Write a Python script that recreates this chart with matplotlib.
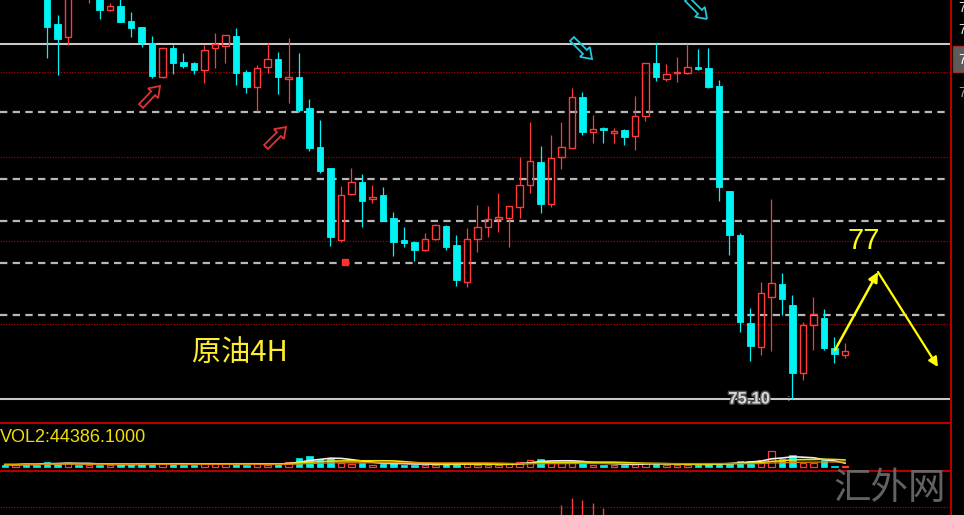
import numpy as np
import pandas as pd
import matplotlib
matplotlib.use("Agg")
import matplotlib.pyplot as plt
from matplotlib.patches import Rectangle, FancyArrow
import matplotlib.patheffects as pe

# ---------------- data (crude oil 4H candles) ----------------
idx = list(range(-4, 77))
opens = [81.40, 81.25, 81.35, 81.05,
         80.80, 80.35, 80.17, 81.11, 80.80, 80.73, 80.55, 80.60, 80.39, 80.31,
         80.08, 79.61, 80.01, 79.82, 79.80, 79.71, 80.01, 80.04, 80.18, 79.68,
         79.47, 79.75, 79.86, 79.58, 79.61, 79.17, 78.63, 78.33, 77.33, 77.97,
         78.14, 77.90, 77.96, 77.63, 77.33, 77.30, 77.19, 77.34, 77.52, 77.26,
         76.74, 77.34, 77.51, 77.62, 77.63, 77.79, 78.10, 78.42, 77.83, 78.49,
         78.61, 79.33, 78.84, 78.89, 78.82, 78.87, 78.78, 79.06, 79.80, 79.58,
         79.66, 79.66, 79.75, 79.73, 79.48, 78.01, 77.40, 76.16, 75.83, 76.53,
         76.71, 76.42, 75.46, 76.14, 76.23, 75.81, 75.72]
highs = [81.50, 81.45, 81.40, 81.10,
         80.85, 80.48, 80.83, 81.25, 81.04, 80.77, 80.64, 80.73, 80.52, 80.31,
         80.18, 80.01, 80.06, 79.94, 79.82, 80.06, 80.22, 80.20, 80.29, 79.71,
         79.78, 80.08, 79.96, 80.15, 79.94, 79.30, 79.01, 78.33, 78.08, 78.33,
         78.25, 78.10, 78.07, 77.72, 77.51, 77.31, 77.42, 77.55, 77.54, 77.40,
         77.49, 77.82, 77.80, 77.98, 77.80, 78.49, 78.98, 78.64, 78.80, 78.98,
         79.45, 79.40, 79.08, 78.91, 78.89, 78.88, 79.34, 79.80, 80.08, 79.79,
         79.89, 80.07, 80.00, 80.01, 79.57, 78.01, 77.42, 76.37, 76.74, 77.90,
         76.86, 76.56, 76.18, 76.53, 76.36, 75.97, 75.88]
lows = [81.15, 81.15, 81.00, 80.75,
        79.87, 79.64, 80.06, 80.76, 80.64, 80.42, 80.53, 80.38, 80.17, 80.03,
        79.59, 79.59, 79.65, 79.73, 79.65, 79.52, 79.73, 79.80, 79.50, 79.38,
        79.13, 79.66, 79.37, 79.24, 79.12, 78.57, 78.26, 77.24, 77.30, 77.96,
        77.51, 77.84, 77.59, 77.10, 77.23, 77.03, 77.17, 77.33, 77.19, 76.68,
        76.67, 77.16, 77.37, 77.44, 77.23, 77.63, 77.98, 77.70, 77.79, 78.32,
        78.61, 78.80, 78.68, 78.68, 78.68, 78.66, 78.59, 78.99, 79.55, 79.55,
        79.54, 79.65, 79.71, 79.45, 77.87, 77.12, 76.04, 75.63, 75.72, 75.77,
        76.28, 75.10, 75.37, 75.79, 75.79, 75.60, 75.67]
closes = [81.25, 81.35, 81.05, 80.80,
          80.31, 80.14, 80.77, 80.90, 80.97, 80.55, 80.60, 80.38, 80.29, 80.10,
          79.62, 80.01, 79.80, 79.76, 79.71, 79.99, 80.07, 80.20, 79.66, 79.47,
          79.73, 79.86, 79.61, 79.61, 79.15, 78.61, 78.29, 77.37, 77.96, 78.14,
          77.87, 77.93, 77.61, 77.30, 77.28, 77.19, 77.34, 77.54, 77.23, 76.77,
          77.34, 77.51, 77.62, 77.65, 77.80, 78.10, 78.43, 77.83, 78.47, 78.63,
          79.33, 78.84, 78.88, 78.87, 78.85, 78.77, 79.06, 79.80, 79.61, 79.65,
          79.68, 79.75, 79.72, 79.47, 78.07, 77.40, 76.18, 75.84, 76.58, 76.72,
          76.50, 75.46, 76.14, 76.29, 75.81, 75.73, 75.77]
volumes = [10000, 10000, 15000, 10000,
           25000, 15000, 20000, 10000, 10000, 10000, 10000, 10000, 10000, 15000,
           15000, 15000, 15000, 10000, 10000, 15000, 15000, 15000, 15000, 10000,
           15000, 10000, 15000, 25000, 45000, 55000, 40000, 45000, 20000, 15000,
           20000, 10000, 15000, 20000, 10000, 10000, 10000, 10000, 15000, 15000,
           15000, 10000, 10000, 10000, 15000, 25000, 35000, 40000, 25000, 20000,
           25000, 20000, 10000, 10000, 10000, 10000, 15000, 20000, 15000, 10000,
           10000, 10000, 10000, 15000, 20000, 20000, 30000, 30000, 35000, 80000,
           40000, 60000, 20000, 20000, 35000, 7500, 5000]
macd_idx = [49, 50, 51, 52, 53]
macd_hist = [0.035, 0.042, 0.040, 0.037, 0.032]

support_low = 75.10
solid_levels = [80.07, 75.10]
dash_levels = [79.12, 78.18, 77.59, 77.00, 76.28]
dot_levels = [79.68, 78.49, 77.31, 76.15]
signal_x, signal_price = 28.4, 77.02
target_label = "77"
title_text = "原油4H"
vol_label = "VOL2:44386.1000"
watermark = "汇外网"

# ---------------- figure ----------------
W, H = 964, 515
fig = plt.figure(figsize=(W / 100, H / 100), dpi=100, facecolor="black")
right = 951 / W

CYAN = "#00f4f4"
RED = "#ff3a3a"
BORDER = "#b40000"

ax = fig.add_axes([0, (H - 423) / H, right, 423 / H], facecolor="black")
axv = fig.add_axes([0, (H - 471) / H, right, 48 / H], facecolor="black")
axm = fig.add_axes([0, 0, right, 44 / H], facecolor="black")
ov = fig.add_axes([0, 0, 1, 1], facecolor="none", zorder=20)

x_left = -47 / 10.5
x_right = (951 - 47) / 10.5
for a in (ax, axv, axm):
    a.set_xlim(x_left, x_right)
    a.set_axis_off()
ax.set_ylim(74.764, 80.686)
axv.set_ylim(-4 * 5000, 44 * 5000)
axm.set_ylim(0.025, 0.069)
ov.set_xlim(0, W)
ov.set_ylim(H, 0)
ov.set_axis_off()

# horizontal reference lines
for lv in solid_levels:
    ax.axhline(lv, color="#c8c8c8", lw=1.5, zorder=1)
for lv in dash_levels:
    ax.axhline(lv, color="#b8b8b8", lw=1.6, ls=(0, (3.3, 2.4)), zorder=1)
for lv in dot_levels:
    ax.axhline(lv, color="#a00000", lw=0.9, ls=(0, (1, 1.2)), zorder=1)

# candles
bw = 0.66
for i, o, h, l, c in zip(idx, opens, highs, lows, closes):
    if c >= o:
        ax.vlines(i, c, h, color=RED, lw=0.9, zorder=3)
        ax.vlines(i, l, o, color=RED, lw=0.9, zorder=3)
        ax.add_patch(Rectangle((i - bw / 2, o), bw, max(c - o, 0.012), fill=False,
                               ec=RED, lw=1.0, zorder=4))
    else:
        ax.vlines(i, l, h, color=CYAN, lw=0.9, zorder=3)
        ax.add_patch(Rectangle((i - bw / 2, c), bw, o - c, fc=CYAN, ec=CYAN, lw=0.6, zorder=4))

ax.plot([signal_x], [signal_price], marker="s", ms=4.5, color="#ff3030", ls="none", zorder=5)

# volume panel
for i, o, c, v in zip(idx, opens, closes, volumes):
    if c >= o:
        axv.add_patch(Rectangle((i - bw / 2, 0), bw, v, fill=False, ec=RED, lw=0.9, zorder=3))
    else:
        axv.add_patch(Rectangle((i - bw / 2, 0), bw, v, fc=CYAN, ec=CYAN, lw=0.5, zorder=3))
vs = pd.Series(volumes, index=idx, dtype=float)
axv.plot(idx, vs.rolling(5, min_periods=1).mean() + 2000, color="#f0f0f0", lw=1.2, zorder=4)
axv.plot(idx, vs.rolling(10, min_periods=1).mean() + 2000, color="#e8e000", lw=1.2, zorder=4)
axv.plot(idx, vs.rolling(20, min_periods=1).mean(), color="#e08000", lw=0.9, zorder=4)

# MACD-like panel
axm.axhline(0.033, color="#a00000", lw=0.9, ls=(0, (1, 1.2)))
axm.vlines(macd_idx, 0.0, macd_hist, color=RED, lw=1.0)

# panel borders
ov.plot([0, 951], [423, 423], color=BORDER, lw=1.5)
ov.plot([0, 951], [471, 471], color=BORDER, lw=1.5)
ov.plot([951, 951], [0, H], color=BORDER, lw=1.5)

# right axis fragments
ov.add_patch(Rectangle((952.5, 46), 12, 26, fc="#5c5c5c", ec="#a03030", lw=1))
for yy, col in [(8, "#e0e0e0"), (30, "#e0e0e0"), (60, "#ffffff"), (93, "#a0a0a0")]:
    ov.text(958, yy, "7", color=col, fontsize=10, va="center", ha="left",
            family="Liberation Sans")

# arrows (hollow signal arrows)
for (x0, y0, dx, dy, col) in [(141, 106, 19, -20, "#e03232"), (266, 147, 20, -20, "#e03232"),
                              (572, 39, 20, 20, "#20c8d8"), (687, -1, 20, 20, "#20c8d8")]:
    ov.add_patch(FancyArrow(x0, y0, dx, dy, width=5.5, head_width=14, head_length=10,
                            length_includes_head=True, fill=False, ec=col, lw=1.3))

# yellow projection arrows
ov.annotate("", xy=(878, 272), xytext=(835, 350),
            arrowprops=dict(arrowstyle="-|>", color="#ffff00", lw=1.8,
                            mutation_scale=14, shrinkA=0, shrinkB=0))
ov.annotate("", xy=(938, 367), xytext=(878, 272),
            arrowprops=dict(arrowstyle="-|>", color="#ffff00", lw=1.6,
                            mutation_scale=14, shrinkA=0, shrinkB=0))

# texts
ov.text(864, 241, target_label, color="#ffff10", fontsize=21, ha="center", va="center",
        family="Liberation Sans")
ov.text(192, 353, title_text, color="#ffee30", fontsize=21, ha="left", va="center",
        family=["Noto Sans CJK SC", "DejaVu Sans"])
ov.text(749, 399, f"{support_low:.2f}", color="#d8d8d8", fontsize=12, ha="center",
        va="center", family="Liberation Sans", weight="bold",
        path_effects=[pe.withStroke(linewidth=2, foreground="#505050")])
ov.text(789, 398, ":", color="#b0b0b0", fontsize=8, ha="center", va="center")
ov.text(0, 438, vol_label, color="#f0e000", fontsize=13, ha="left", va="center",
        family=["Liberation Sans Narrow", "Liberation Sans"])
ov.text(890, 488, watermark, color="#6e6e6e", fontsize=27, ha="center", va="center",
        family=["Noto Sans CJK SC", "DejaVu Sans"], weight="light", alpha=0.9)

fig.savefig("out.png", dpi=100, facecolor="black")
